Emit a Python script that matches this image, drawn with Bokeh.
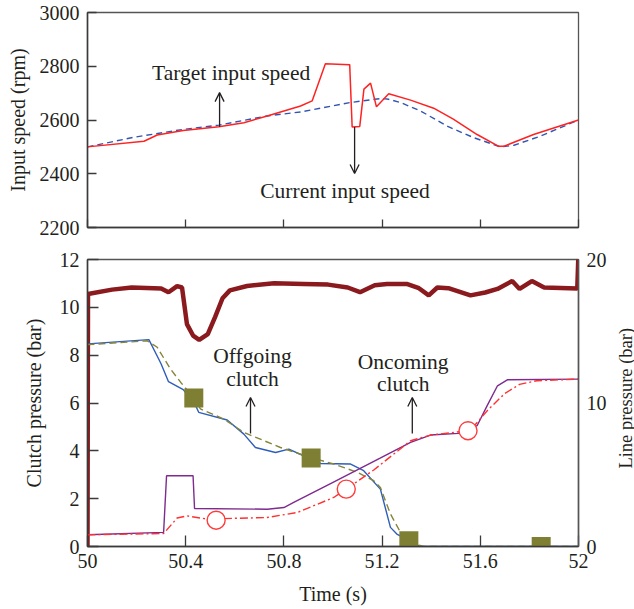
import math
from bokeh.plotting import figure
from bokeh.models import (Range1d, LinearAxis, FixedTicker, NumeralTickFormatter,
                          Arrow, OpenHead, Label)
from bokeh.layouts import column, row
from bokeh.embed import file_html
from bokeh.resources import INLINE

# ---------------- data ----------------
# top panel: input speed (rpm)
target_t = [50.0, 50.19, 50.39, 50.535, 50.73, 50.868, 51.07, 51.17, 51.2, 51.227,
            51.275, 51.356, 51.465, 51.574, 51.682, 51.737, 51.845, 52.0]
target_rpm = [2500, 2536, 2565, 2581, 2615, 2630, 2665, 2677, 2680, 2677,
              2665, 2634, 2577, 2534, 2500, 2506, 2540, 2600]

current_t = [50.0, 50.23, 50.284, 50.39, 50.535, 50.637, 50.732, 50.868, 50.915, 50.969,
             51.068, 51.078, 51.109, 51.126, 51.153, 51.177, 51.227, 51.316, 51.41,
             51.49, 51.587, 51.675, 51.695, 51.817, 52.0]
current_rpm = [2500, 2521, 2544, 2561, 2575, 2590, 2615, 2652, 2671, 2809,
               2806, 2574, 2576, 2715, 2737, 2649, 2698, 2674, 2644,
               2603, 2546, 2502, 2502, 2546, 2600]

# bottom panel: line pressure (bar, right axis)
lp_t = [50.0, 50.002, 50.10, 50.18, 50.30, 50.33, 50.365, 50.385, 50.405, 50.43,
        50.455, 50.49, 50.52, 50.55, 50.58, 50.65, 50.76, 50.88, 50.98, 51.06,
        51.11, 51.17, 51.22, 51.30, 51.35, 51.39, 51.425, 51.47, 51.56, 51.62,
        51.67, 51.73, 51.76, 51.81, 51.86, 51.995, 52.0]
lp_bar = [0.0, 17.6, 17.9, 18.05, 17.98, 17.72, 18.15, 18.05, 15.5, 14.7,
          14.4, 14.8, 16.0, 17.3, 17.85, 18.15, 18.35, 18.3, 18.25, 18.05,
          17.72, 18.2, 18.3, 18.3, 18.0, 17.5, 18.05, 18.0, 17.5, 17.7,
          17.95, 18.5, 17.95, 18.5, 18.05, 17.98, 20.5]

# offgoing clutch: measured (solid) and target (dashed, squares)
off_t = [50.0, 50.25, 50.29, 50.30, 50.33, 50.39, 50.44, 50.453, 50.569, 50.637,
         50.684, 50.766, 50.82, 50.95, 51.07, 51.125, 51.193, 51.234, 51.26, 51.356, 52.0]
off_p = [8.47, 8.65, 7.84, 7.63, 6.89, 6.56, 5.9, 5.61, 5.29, 4.7,
         4.14, 3.93, 4.07, 3.47, 3.45, 3.17, 2.4, 0.8, 0.52, 0.0, 0.0]

off_ref_t = [50.0, 50.243, 50.284, 50.338, 50.38, 50.433, 50.46, 50.555, 50.637, 50.786,
             50.908, 51.003, 51.1, 51.166, 51.193, 51.234, 51.275, 51.31, 51.37, 52.0]
off_ref_p = [8.44, 8.6, 8.33, 7.42, 6.86, 6.21, 5.75, 5.33, 4.77, 4.14,
             3.72, 3.45, 3.1, 2.75, 2.47, 1.36, 0.59, 0.17, 0.0, 0.0]
sq_t = [50.433, 50.911, 51.309, 51.848]
sq_p = [6.21, 3.70, 0.24, 0.0]

# oncoming clutch: measured (solid) and target (dash-dot, circles)
on_t = [50.0, 50.31, 50.322, 50.43, 50.436, 50.732, 50.8, 50.84, 51.0, 51.19,
        51.316, 51.397, 51.51, 51.587, 51.628, 51.67, 51.71, 52.0]
on_p = [0.49, 0.59, 2.96, 2.96, 1.59, 1.56, 1.63, 1.84, 2.68, 3.68,
        4.35, 4.66, 4.73, 5.05, 5.89, 6.72, 6.97, 7.0]

on_ref_t = [50.0, 50.31, 50.365, 50.405, 50.485, 50.73, 50.854, 51.003, 51.054, 51.166,
            51.316, 51.397, 51.55, 51.58, 51.63, 51.70, 51.76, 51.83, 52.0]
on_ref_p = [0.49, 0.54, 1.19, 1.28, 1.15, 1.21, 1.42, 2.05, 2.4, 3.2,
            4.42, 4.66, 4.84, 5.1, 5.7, 6.4, 6.78, 6.93, 7.0]
circ_t = [50.524, 51.054, 51.55]
circ_p = [1.1, 2.4, 4.84]

x_ticks = [50, 50.4, 50.8, 51.2, 51.6, 52]
rpm_ticks = [2200, 2400, 2600, 2800, 3000]
clutch_ticks = [0, 2, 4, 6, 8, 10, 12]
lp_ticks = [0, 10, 20]

# ---------------- style ----------------
FONT = "Liberation Serif"
TXT = "#231F20"
AX = "#3a3a3a"
FS = "20px"
FS_ANN = "21.5px"
MAIN_W = 614


def style_axis(ax, tick_in):
    ax.axis_line_color = AX
    ax.axis_line_width = 1.5
    ax.major_tick_line_color = AX
    ax.major_tick_line_width = 1.3
    ax.major_tick_in = tick_in
    ax.major_tick_out = 0
    ax.minor_tick_line_color = None
    ax.major_label_text_font = FONT
    ax.major_label_text_font_size = FS
    ax.major_label_text_color = TXT
    ax.axis_label_text_font = FONT
    ax.axis_label_text_font_size = FS
    ax.axis_label_text_font_style = "normal"
    ax.axis_label_text_color = TXT


def ann(fig, x, y, text, size=FS_ANN, angle=0.0):
    fig.add_layout(Label(x=x, y=y, text=text, text_align="center", text_baseline="middle",
                         angle=angle, text_font=FONT, text_font_size=size, text_color=TXT))


def arrow(fig, x, y0, y1):
    fig.add_layout(Arrow(x_start=x, y_start=y0, x_end=x, y_end=y1,
                         line_color=TXT, line_width=1.3,
                         end=OpenHead(size=9, line_width=1.3, line_color=TXT)))


# ---------------- top panel ----------------
top = figure(width=MAIN_W, height=240, output_backend="svg", toolbar_location=None,
             x_range=Range1d(50, 52), y_range=Range1d(2200, 3000),
             min_border_left=87, min_border_right=MAIN_W - 578,
             min_border_top=12, min_border_bottom=13)
top.grid.visible = False
top.outline_line_color = "#555555"
top.outline_line_width = 1.3

top.line(target_t, target_rpm, line_color="#3355B0", line_width=1.4, line_dash="6 4")
top.line(current_t, current_rpm, line_color="#FF2222", line_width=1.5)

top.xaxis.ticker = FixedTicker(ticks=x_ticks)
top.xaxis.major_label_overrides = {t: "" for t in x_ticks}
top.yaxis.ticker = FixedTicker(ticks=rpm_ticks)
top.yaxis.formatter = NumeralTickFormatter(format="0")
top.yaxis.axis_label = "Input speed (rpm)"
style_axis(top.xaxis[0], 8)
style_axis(top.yaxis[0], 9)
top.xaxis.major_label_standoff = 0
top.yaxis.major_label_standoff = 8
top.yaxis.axis_label_standoff = 8

ann(top, 50.585, 2776, "Target input speed")
ann(top, 51.049, 2337, "Current input speed")
arrow(top, 50.538, 2575, 2702)
arrow(top, 51.088, 2574, 2401)

# ---------------- bottom panel ----------------
bot = figure(width=MAIN_W, height=369, output_backend="svg", toolbar_location=None,
             x_range=Range1d(50, 52), y_range=Range1d(0, 12),
             min_border_left=87, min_border_right=MAIN_W - 578,
             min_border_top=19, min_border_bottom=63)
bot.grid.visible = False
bot.outline_line_color = "#555555"
bot.outline_line_width = 1.3
bot.extra_y_ranges = {"lp": Range1d(0, 20)}

bot.line(lp_t, lp_bar, y_range_name="lp", line_color="#8B1A1E", line_width=4.5)
bot.line(off_t, off_p, line_color="#2F5DBA", line_width=1.4)
bot.line(off_ref_t, off_ref_p, line_color="#85853A", line_width=1.4, line_dash="7 4")
bot.line(on_t, on_p, line_color="#7E2A8E", line_width=1.4)
bot.line(on_ref_t, on_ref_p, line_color="#FF3030", line_width=1.4, line_dash="8 3 2 3")
bot.scatter(sq_t, sq_p, marker="square", size=19, fill_color="#7F7F33", line_color=None)
bot.scatter(circ_t, circ_p, marker="circle", size=18, fill_color="white",
            line_color="#FF3B3B", line_width=1.4)

bot.xaxis.ticker = FixedTicker(ticks=x_ticks)
bot.xaxis.formatter = NumeralTickFormatter(format="0[.]0")
bot.yaxis.ticker = FixedTicker(ticks=clutch_ticks)
bot.yaxis.formatter = NumeralTickFormatter(format="0")
bot.xaxis.axis_label = "Time (s)"
bot.yaxis.axis_label = "Clutch pressure (bar)"
style_axis(bot.xaxis[0], 11)
style_axis(bot.yaxis[0], 11)
bot.xaxis.major_label_standoff = 7
bot.xaxis.axis_label_standoff = 12
bot.yaxis.major_label_standoff = 8
bot.yaxis.axis_label_standoff = 12

rax = LinearAxis(y_range_name="lp", ticker=FixedTicker(ticks=lp_ticks),
                 formatter=NumeralTickFormatter(format="0"))
style_axis(rax, 0)
rax.axis_line_color = "#555555"
rax.major_tick_line_color = None
rax.major_label_standoff = 8
bot.add_layout(rax, "right")

ann(bot, 50.672, 7.98, "Offgoing")
ann(bot, 50.672, 7.0, "clutch")
ann(bot, 51.286, 7.7, "Oncoming")
ann(bot, 51.286, 6.8, "clutch")
arrow(bot, 50.664, 4.72, 6.23)
arrow(bot, 51.323, 4.72, 6.23)

# narrow strip on the right carrying the right-axis title (reads bottom-to-top)
strip = figure(width=634 - MAIN_W, height=369, output_backend="svg", toolbar_location=None,
               x_range=Range1d(0, 1), y_range=Range1d(0, 12),
               min_border_left=0, min_border_right=0, min_border_top=19, min_border_bottom=63)
strip.axis.visible = False
strip.grid.visible = False
strip.outline_line_color = None
ann(strip, 0.55, 6.2, "Line pressure (bar)", size="18.5px", angle=math.pi / 2)

layout = column(top, row(bot, strip, spacing=0), spacing=0)
open("out.html", "w").write(file_html(layout, INLINE))
